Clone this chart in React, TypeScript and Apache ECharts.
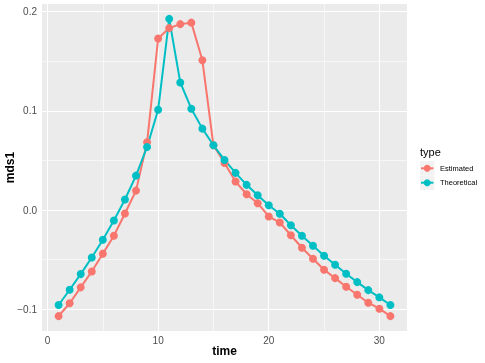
import React, { useEffect, useRef } from "react";
import * as echarts from "echarts";

const time = Array.from({ length: 31 }, (_, i) => i + 1);
const estimated = [
  -0.107, -0.094, -0.078, -0.062, -0.044, -0.026, -0.0035, 0.0196, 0.0683, 0.173,
  0.1835, 0.1875, 0.189, 0.151, 0.0653, 0.0475, 0.0287, 0.0159, 0.0069, -0.0065,
  -0.0126, -0.0254, -0.038, -0.0492, -0.0602, -0.0687, -0.0774, -0.0854, -0.0935, -0.0995,
  -0.107,
];
const theoretical = [
  -0.0958, -0.0804, -0.0646, -0.0478, -0.03, -0.0106, 0.0106, 0.0347, 0.0636, 0.1012,
  0.1928, 0.1287, 0.1022, 0.0821, 0.0653, 0.0505, 0.0375, 0.0254, 0.0149, 0.0048,
  -0.0038, -0.0153, -0.026, -0.036, -0.0461, -0.0552, -0.0643, -0.0727, -0.0808, -0.0881,
  -0.0958,
];
const xTicks = [0, 10, 20, 30];
const xMinor = [5, 15, 25];
const yTicks = [-0.1, 0, 0.1, 0.2];
const yMinor = [-0.05, 0.05, 0.15];
const seriesNames = ["Estimated", "Theoretical"];
const colors = ["#F8766D", "#00BFC4"];

export default function App() {
  const ref = useRef<HTMLDivElement>(null);
  useEffect(() => {
    if (!ref.current) return;
    const chart = echarts.init(ref.current, undefined, { renderer: "svg" });
    const fmtY = (v: number) => (v < 0 ? "\u2212" + Math.abs(v).toFixed(1) : v.toFixed(1));
    const gridLines = [
      ...xMinor.map((v) => ({ xAxis: v, lineStyle: { width: 0.55 } })),
      ...yMinor.map((v) => ({ yAxis: v, lineStyle: { width: 0.55 } })),
      ...xTicks.map((v) => ({ xAxis: v, lineStyle: { width: 1.1 } })),
      ...yTicks.map((v) => ({ yAxis: v, lineStyle: { width: 1.1 } })),
    ];
    const font = "Liberation Sans, Arial, sans-serif";
    chart.setOption({
      animation: false,
      grid: {
        left: 42,
        right: 78,
        top: 4,
        bottom: 32,
        show: true,
        backgroundColor: "#EBEBEB",
        borderWidth: 0,
        containLabel: false,
        outerBoundsMode: "none",
      },
      xAxis: {
        type: "value",
        min: -0.5,
        max: 32.5,
        name: "time",
        nameLocation: "middle",
        nameGap: 14,
        nameMoveOverlap: false,
        nameTextStyle: { fontFamily: font, fontSize: 12, fontWeight: "bold", color: "#000" },
        axisLine: { show: false },
        axisTick: { show: true, length: 3, customValues: xTicks, lineStyle: { color: "#333333" } },
        axisLabel: { customValues: xTicks, color: "#4D4D4D", fontSize: 10, fontFamily: font, margin: 4 },
        splitLine: { show: false },
      },
      yAxis: {
        type: "value",
        min: -0.122,
        max: 0.2078,
        name: "mds1",
        nameLocation: "middle",
        nameGap: 26,
        nameMoveOverlap: false,
        nameTextStyle: { fontFamily: font, fontSize: 12, fontWeight: "bold", color: "#000" },
        axisLine: { show: false },
        axisTick: { show: true, length: 3, customValues: yTicks, lineStyle: { color: "#333333" } },
        axisLabel: {
          customValues: yTicks,
          color: "#4D4D4D",
          fontSize: 10,
          fontFamily: font,
          margin: 5,
          formatter: fmtY,
        },
        splitLine: { show: false },
      },
      series: [
        {
          type: "line",
          data: [],
          z: 1,
          silent: true,
          markLine: {
            silent: true,
            z: 1,
            symbol: ["none", "none"],
            label: { show: false },
            lineStyle: { color: "#FFFFFF", type: "solid" },
            emphasis: { disabled: true },
            data: gridLines,
          },
        },
        ...[estimated, theoretical].map((vals, i) => ({
          type: "line",
          name: seriesNames[i],
          z: 3,
          data: time.map((t, j) => [t, vals[j]]),
          symbol: "circle",
          symbolSize: 8,
          showSymbol: true,
          color: colors[i],
          lineStyle: { width: 2, color: colors[i] },
          itemStyle: { color: colors[i] },
        })),
      ],
      graphic: [
        { type: "text", x: 420, y: 152, style: { text: "type", fontSize: 11, fontFamily: font, fill: "#000", textVerticalAlign: "middle" } },
        ...seriesNames.flatMap((n, i) => {
          const cy = 168.3 + i * 14.4;
          return [
            { type: "rect", shape: { x: 420, y: cy - 7.2, width: 14.4, height: 14.4 }, style: { fill: "#F2F2F2" } },
            { type: "line", shape: { x1: 421, y1: cy, x2: 433.4, y2: cy }, style: { stroke: colors[i], lineWidth: 2 } },
            { type: "circle", shape: { cx: 427.2, cy, r: 3.5 }, style: { fill: colors[i] } },
            { type: "text", x: 440, y: cy, style: { text: n, fontSize: 7.5, fontFamily: font, fill: "#000", textVerticalAlign: "middle" } },
          ];
        }),
      ],
    });
    return () => chart.dispose();
  }, []);
  return <div ref={ref} style={{ position: "fixed", left: 0, top: 0, width: 485, height: 363 }} />;
}
